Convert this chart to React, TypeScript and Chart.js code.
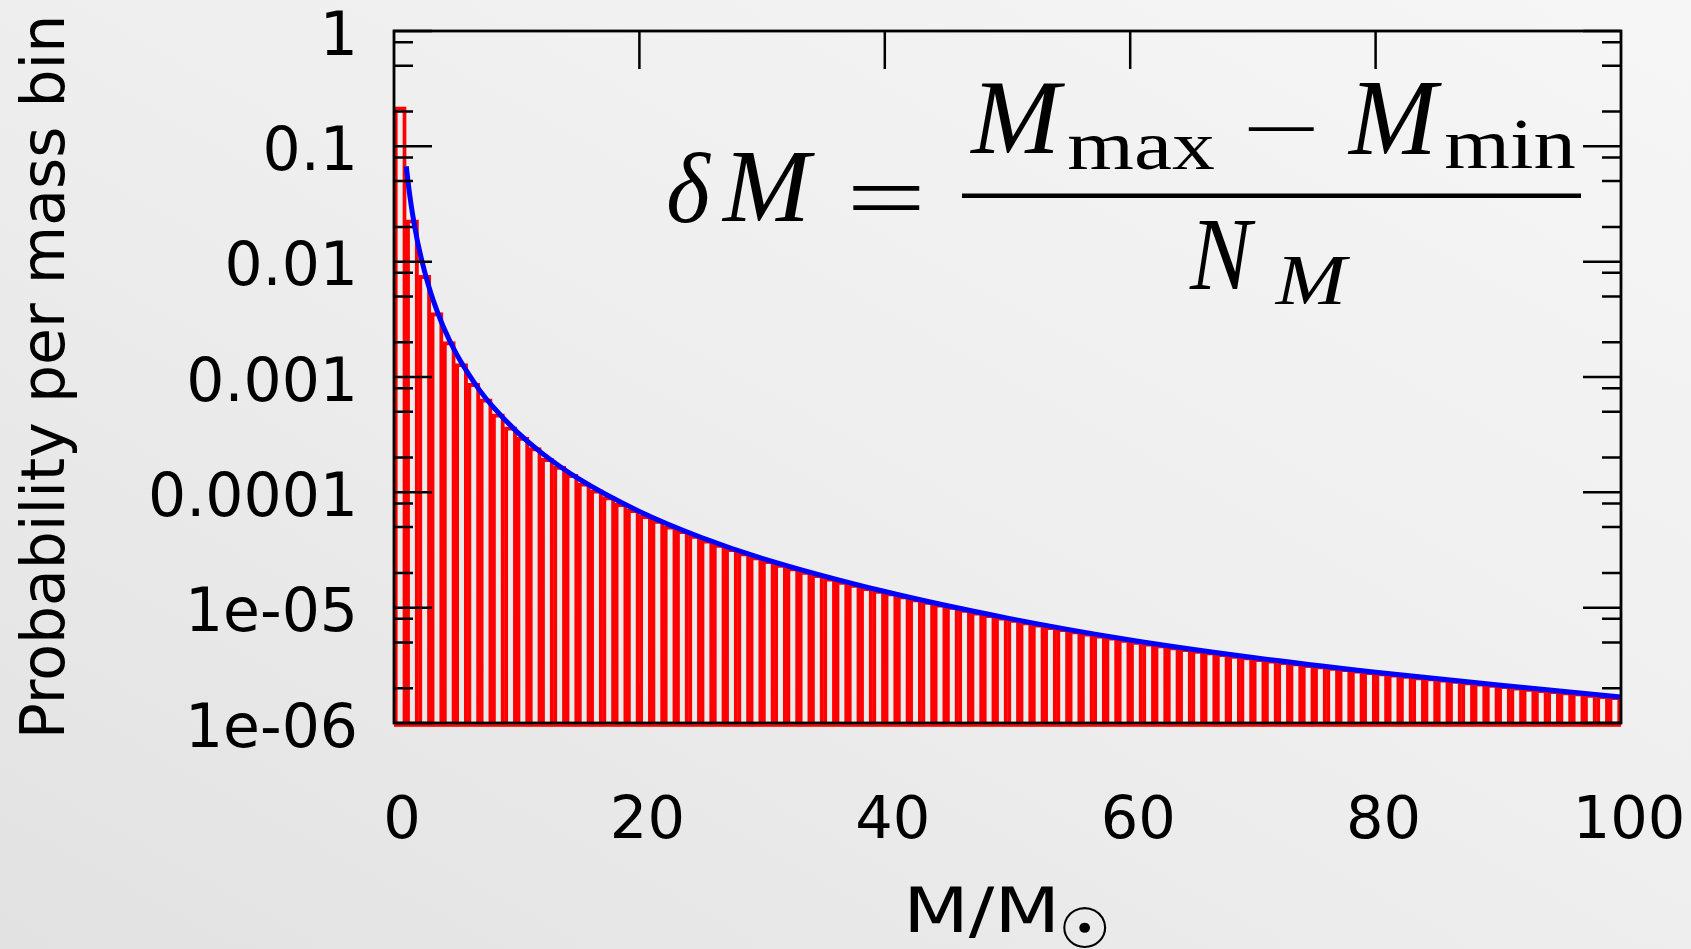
import React, { useEffect, useRef } from 'react';
import { Chart, registerables } from 'chart.js';

Chart.register(...registerables);

// Mass binning: δM = (M_max − M_min) / N_M
const M_MIN = 0;
const M_MAX = 100;
const N_M = 100;

// Probability per mass bin, one value per bin from M_MIN to M_MAX
const binProbability = [
  0.22, 0.0231, 0.0076, 0.00362, 0.00203, 0.00131, 0.00088, 0.000647, 0.00048, 0.00037,
  0.000301, 0.000244, 0.000197, 0.000169, 0.000143, 0.000121, 0.000105, 9.18e-5, 8.03e-5, 7.13e-5,
  6.32e-5, 5.73e-5, 5.12e-5, 4.68e-5, 4.26e-5, 3.88e-5, 3.55e-5, 3.26e-5, 3.0e-5, 2.77e-5,
  2.57e-5, 2.39e-5, 2.22e-5, 2.07e-5, 1.94e-5, 1.81e-5, 1.7e-5, 1.6e-5, 1.5e-5, 1.42e-5,
  1.35e-5, 1.27e-5, 1.2e-5, 1.14e-5, 1.08e-5, 1.03e-5, 9.7e-6, 9.2e-6, 8.75e-6, 8.33e-6,
  7.94e-6, 7.57e-6, 7.23e-6, 6.9e-6, 6.6e-6, 6.32e-6, 6.05e-6, 5.8e-6, 5.57e-6, 5.35e-6,
  5.14e-6, 4.95e-6, 4.77e-6, 4.6e-6, 4.44e-6, 4.29e-6, 4.15e-6, 4.01e-6, 3.88e-6, 3.76e-6,
  3.64e-6, 3.53e-6, 3.43e-6, 3.33e-6, 3.23e-6, 3.14e-6, 3.05e-6, 2.97e-6, 2.89e-6, 2.81e-6,
  2.74e-6, 2.67e-6, 2.6e-6, 2.53e-6, 2.47e-6, 2.41e-6, 2.35e-6, 2.29e-6, 2.23e-6, 2.17e-6,
  2.12e-6, 2.06e-6, 2.01e-6, 1.96e-6, 1.92e-6, 1.87e-6, 1.83e-6, 1.78e-6, 1.74e-6, 1.7e-6,
];

// Smooth mass-function curve, sampled masses and probabilities
const curveMass = [1, 1.25, 1.5, 1.75, 2, 2.5, 3, 3.5, 4, 5, 6, 7, 8, 10, 12, 15, 20, 25, 30, 40, 50, 60, 70, 80, 90, 100];
const curveProbability = [
  0.067, 0.0401, 0.0264, 0.0185, 0.0136, 0.00814, 0.00535, 0.00376, 0.00276, 0.00165,
  0.00109, 0.000762, 0.000561, 0.000336, 0.000221, 0.000132, 6.83e-5, 4.08e-5, 2.68e-5,
  1.38e-5, 8.12e-6, 5.25e-6, 3.7e-6, 2.76e-6, 2.14e-6, 1.68e-6,
];

const X_TICKS = [0, 20, 40, 60, 80, 100];
const X_INNER_TICKS = [20, 40, 60, 80];
const Y_TICKS = [1e-6, 1e-5, 1e-4, 1e-3, 1e-2, 0.1, 1];
const Y_TICK_LABELS = ['1e-06', '1e-05', '0.0001', '0.001', '0.01', '0.1', '1'];
const Y_MINOR_STEPS = [2, 5, 8];

const Y_TITLE = 'Probability per mass bin';
const X_TITLE = 'M/M';
const X_TITLE_SUB = '\u2609';

const MAJOR_TICK = 38;
const MINOR_TICK = 19;

// Draw text so that its ink fills the given box exactly
function inkBox(ctx: CanvasRenderingContext2D, text: string, font: string, l: number, t: number, r: number, b: number) {
  ctx.save();
  ctx.font = font;
  ctx.textAlign = 'left';
  ctx.textBaseline = 'alphabetic';
  const m = ctx.measureText(text);
  const w = m.actualBoundingBoxLeft + m.actualBoundingBoxRight;
  const h = m.actualBoundingBoxAscent + m.actualBoundingBoxDescent;
  ctx.translate(l, t);
  ctx.scale((r - l) / w, (b - t) / h);
  ctx.fillText(text, m.actualBoundingBoxLeft, m.actualBoundingBoxAscent);
  ctx.restore();
}

// Draw text on a baseline, stretched horizontally to span l..r
function inkWidth(ctx: CanvasRenderingContext2D, text: string, font: string, l: number, r: number, baseline: number) {
  ctx.save();
  ctx.font = font;
  ctx.textAlign = 'left';
  ctx.textBaseline = 'alphabetic';
  const m = ctx.measureText(text);
  const w = m.actualBoundingBoxLeft + m.actualBoundingBoxRight;
  ctx.translate(l, baseline);
  ctx.scale((r - l) / w, 1);
  ctx.fillText(text, m.actualBoundingBoxLeft, 0);
  ctx.restore();
}

const frameAndTicks = {
  id: 'frameAndTicks',
  beforeDatasetsDraw(chart: any) {
    const { ctx, chartArea: a } = chart;
    const xs = chart.scales.x;
    ctx.save();
    ctx.strokeStyle = '#000';
    ctx.lineWidth = 2.5;
    ctx.beginPath();
    for (const v of X_INNER_TICKS) {
      const px = xs.getPixelForValue(v);
      ctx.moveTo(px, a.bottom);
      ctx.lineTo(px, a.bottom - MAJOR_TICK);
    }
    ctx.stroke();
    ctx.restore();
  },
  afterDatasetsDraw(chart: any) {
    const { ctx, chartArea: a } = chart;
    const xs = chart.scales.x;
    const ys = chart.scales.y;
    ctx.save();
    ctx.fillStyle = '#ff0000';
    ctx.fillRect(a.left, a.bottom + 1.2, a.right - a.left, 2.6);
    ctx.strokeStyle = '#000';
    ctx.lineWidth = 2.5;
    ctx.beginPath();
    for (const v of X_INNER_TICKS) {
      const px = xs.getPixelForValue(v);
      ctx.moveTo(px, a.top);
      ctx.lineTo(px, a.top + MAJOR_TICK);
    }
    for (const d of Y_TICKS) {
      const py = ys.getPixelForValue(d);
      ctx.moveTo(a.left, py);
      ctx.lineTo(a.left + MAJOR_TICK, py);
      ctx.moveTo(a.right, py);
      ctx.lineTo(a.right - MAJOR_TICK, py);
      if (d < 1) {
        for (const s of Y_MINOR_STEPS) {
          const pm = ys.getPixelForValue(d * s);
          ctx.moveTo(a.left, pm);
          ctx.lineTo(a.left + MINOR_TICK, pm);
          ctx.moveTo(a.right, pm);
          ctx.lineTo(a.right - MINOR_TICK, pm);
        }
      }
    }
    ctx.stroke();
    ctx.lineWidth = 2.8;
    ctx.strokeRect(a.left, a.top, a.right - a.left, a.bottom - a.top);
    ctx.restore();
  },
};

const annotations = {
  id: 'annotations',
  afterDraw(chart: any) {
    const { ctx, chartArea: a } = chart;
    ctx.save();
    ctx.fillStyle = '#000';

    // x-axis title with solar-mass subscript
    const cx = (a.left + a.right) / 2;
    inkWidth(ctx, X_TITLE, '63px "DejaVu Sans"', cx - 97, cx + 46, 931.5);
    inkBox(ctx, X_TITLE_SUB, '56px "DejaVu Sans"', cx + 55, 907, cx + 99, 948);

    // bin-width formula
    const it = 'italic 100px "Liberation Serif"';
    const rm = '100px "Liberation Serif"';
    inkBox(ctx, '\u03b4', it, 668, 152, 711, 223);
    inkBox(ctx, 'M', it, 721, 153, 815, 222);
    inkBox(ctx, '=', rm, 852, 184.5, 920, 209);
    ctx.fillRect(962, 193.5, 619, 4.5);
    inkBox(ctx, 'M', it, 969, 84, 1065, 154.5);
    inkBox(ctx, 'max', rm, 1069, 136, 1214, 169.5);
    inkBox(ctx, '\u2212', rm, 1247, 127, 1314, 131.5);
    inkBox(ctx, 'M', it, 1347, 84, 1442, 155);
    inkBox(ctx, 'min', rm, 1446, 121, 1575, 169);
    inkBox(ctx, 'N', it, 1189, 222, 1256, 290);
    inkBox(ctx, 'M', it, 1274, 257, 1350, 305);
    ctx.restore();
  },
};

export default function App() {
  const canvasRef = useRef<HTMLCanvasElement>(null);

  useEffect(() => {
    const canvas = canvasRef.current;
    if (!canvas) return;
    const dM = (M_MAX - M_MIN) / N_M;
    const barPoints = binProbability.map((p, i) => ({ x: M_MIN + (i + 0.5) * dM, y: p }));
    const curvePoints = curveMass.map((m, i) => ({ x: m, y: curveProbability[i] }));

    const chart = new Chart(canvas, {
      type: 'bar',
      data: {
        datasets: [
          {
            type: 'line',
            label: 'mass function',
            data: curvePoints,
            borderColor: '#0000ff',
            borderWidth: 5,
            pointRadius: 0,
            cubicInterpolationMode: 'monotone',
            fill: false,
            order: 0,
          } as any,
          {
            type: 'bar',
            label: 'histogram',
            data: barPoints,
            backgroundColor: 'rgba(0,0,0,0)',
            borderColor: '#ff0000',
            borderWidth: 3.3,
            borderSkipped: 'start',
            barPercentage: 1,
            categoryPercentage: 1,
            order: 1,
          } as any,
        ],
      },
      options: {
        animation: false,
        responsive: false,
        devicePixelRatio: 1,
        layout: { padding: { top: 31, right: 70, left: 0, bottom: 0 } },
        plugins: { legend: { display: false }, tooltip: { enabled: false } },
        scales: {
          x: {
            type: 'linear',
            position: 'bottom',
            min: M_MIN,
            max: M_MAX,
            offset: false,
            grid: { display: false, drawTicks: true, tickLength: 64 },
            border: { display: false },
            afterBuildTicks: (s: any) => {
              s.ticks = X_TICKS.map((v) => ({ value: v }));
            },
            afterFit: (s: any) => {
              s.height = 226;
            },
            ticks: {
              autoSkip: false,
              maxRotation: 0,
              padding: 0,
              labelOffset: 8,
              color: '#000',
              font: { family: 'DejaVu Sans', size: 59, lineHeight: 1.2 },
              callback: (v: any) => String(v),
            },
          },
          y: {
            type: 'logarithmic',
            position: 'left',
            min: 1e-6,
            max: 1,
            grid: { display: false, drawTicks: true, tickLength: 36 },
            border: { display: false },
            afterBuildTicks: (s: any) => {
              s.ticks = Y_TICKS.map((v) => ({ value: v }));
            },
            afterFit: (s: any) => {
              s.width = 394;
            },
            ticks: {
              autoSkip: false,
              padding: 0,
              labelOffset: 8,
              color: '#000',
              font: { family: 'DejaVu Sans', size: 60, lineHeight: 1 },
              callback: (_v: any, i: number) => Y_TICK_LABELS[i],
            },
            title: {
              display: true,
              text: Y_TITLE,
              color: '#000',
              font: { family: 'DejaVu Sans', size: 60, lineHeight: 1.2 },
              padding: { top: 12, bottom: 0 },
            },
          },
        },
      } as any,
      plugins: [frameAndTicks, annotations],
    });
    return () => chart.destroy();
  }, []);

  return (
    <div
      style={{
        position: 'fixed',
        left: 0,
        top: 0,
        width: 1691,
        height: 949,
        background: 'linear-gradient(to top right, #e2e2e2 0%, #eeeeee 50%, #f6f6f6 100%)',
      }}
    >
      <canvas ref={canvasRef} width={1691} height={949} style={{ display: 'block', width: 1691, height: 949 }} />
    </div>
  );
}
